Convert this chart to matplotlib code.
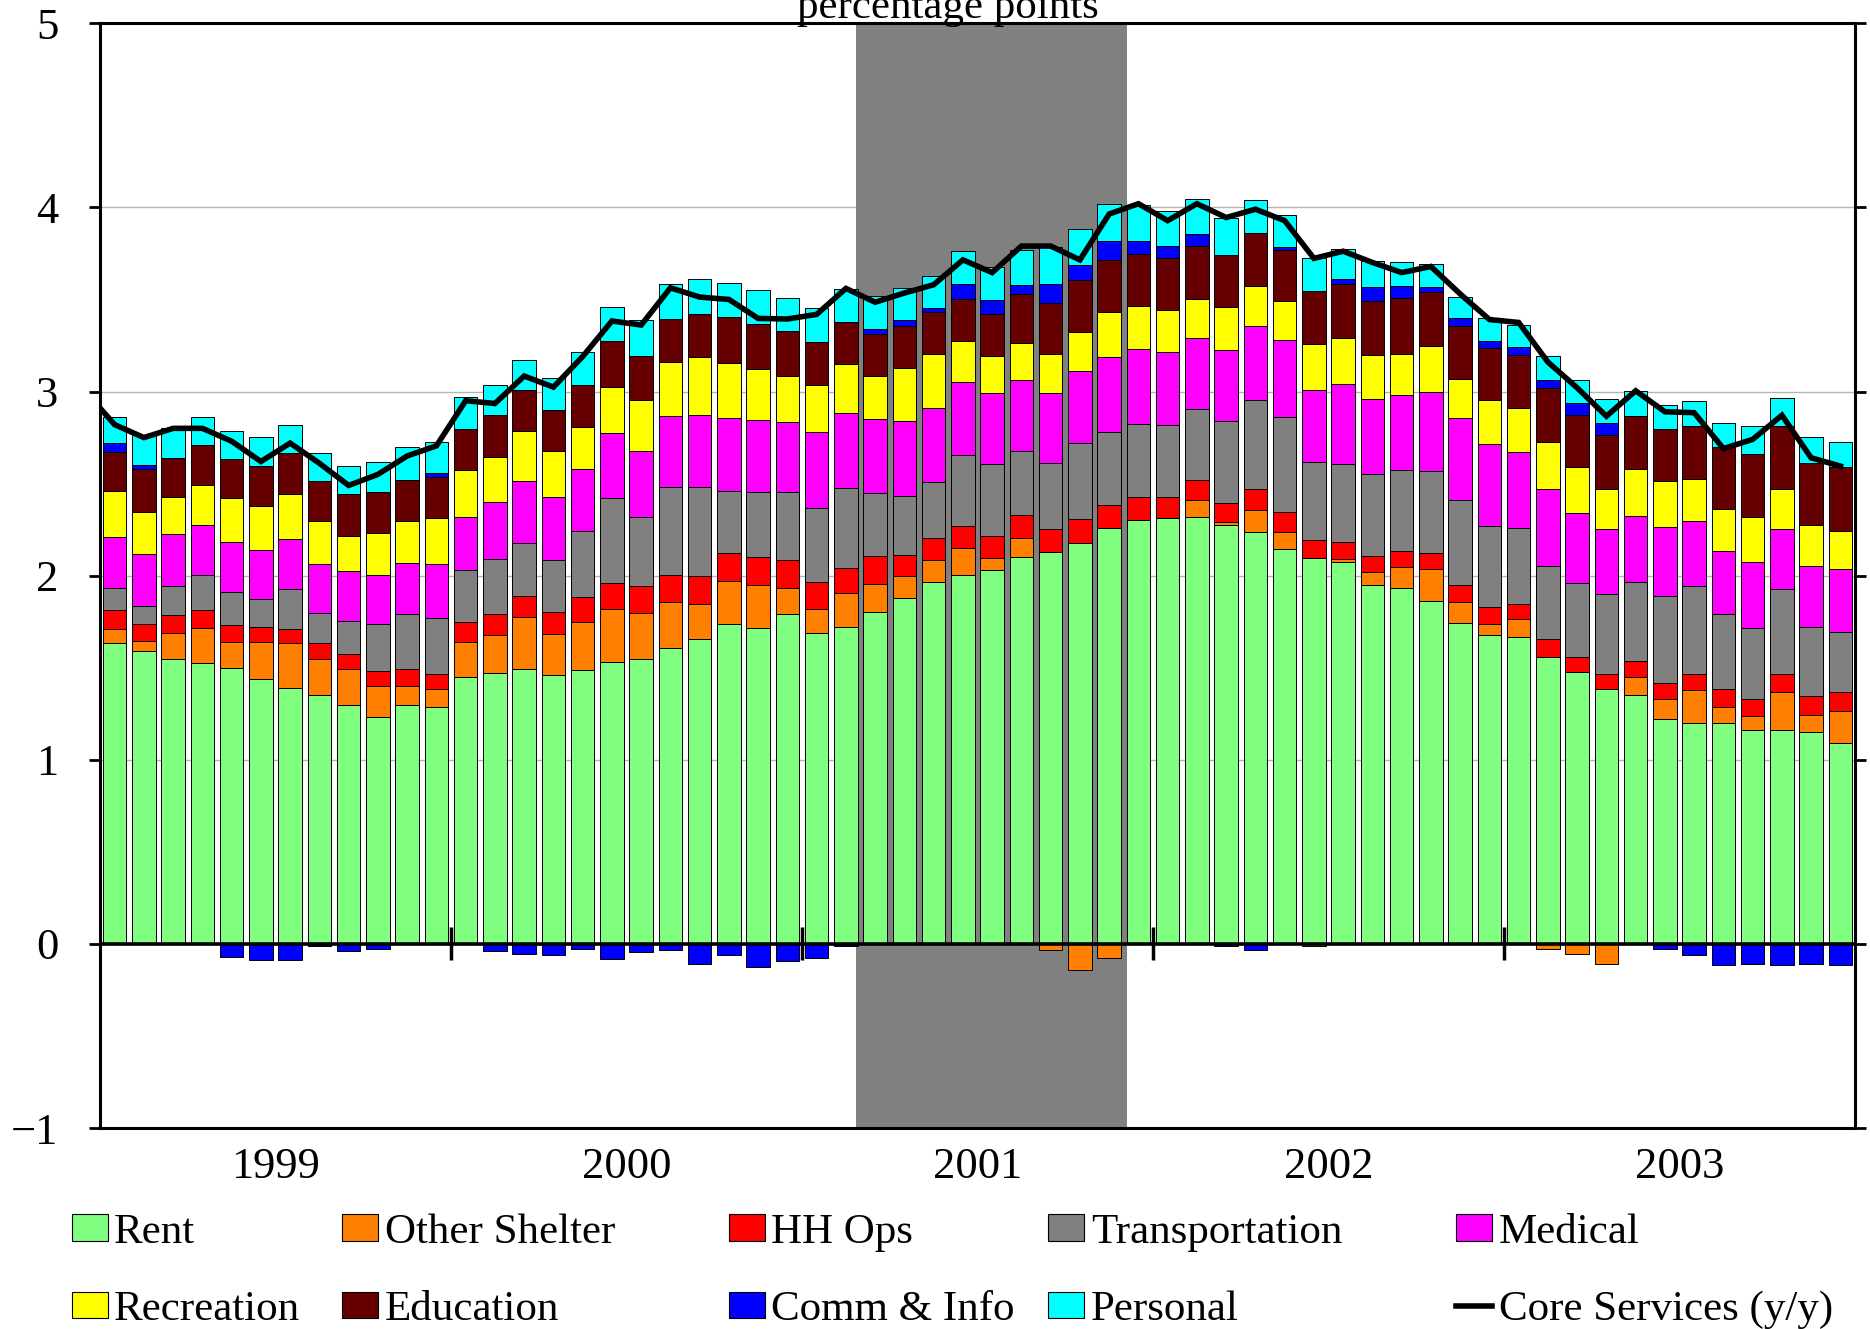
import numpy as np
import matplotlib.pyplot as plt
from matplotlib.lines import Line2D
from matplotlib.patches import Patch

plt.rcParams['font.family'] = ['Liberation Serif', 'DejaVu Serif']

# monthly contributions, Jan 1999 .. Dec 2003 (percentage points)
rent = [1.632, 1.593, 1.549, 1.524, 1.497, 1.441, 1.389, 1.350, 1.300, 1.231,
        1.295, 1.284, 1.450, 1.469, 1.491, 1.463, 1.488, 1.533, 1.546, 1.607,
        1.654, 1.737, 1.715, 1.790, 1.690, 1.723, 1.804, 1.881, 1.964, 2.003,
        2.030, 2.102, 2.130, 2.180, 2.260, 2.304, 2.313, 2.318, 2.274, 2.235,
        2.144, 2.094, 2.075, 1.950, 1.931, 1.862, 1.743, 1.679, 1.665, 1.557,
        1.477, 1.386, 1.353, 1.223, 1.198, 1.201, 1.162, 1.162, 1.151, 1.093]
other_shelter = [0.08, 0.05, 0.14, 0.19, 0.14, 0.20, 0.246, 0.196, 0.194, 0.169,
                 0.108, 0.10, 0.19, 0.207, 0.282, 0.219, 0.26, 0.287, 0.249, 0.252,
                 0.194, 0.235, 0.235, 0.141, 0.13, 0.183, 0.152, 0.116, 0.119, 0.149,
                 0.064, 0.105, -0.033, -0.144, -0.075, 0.0, 0.0, 0.091, 0.017, 0.119,
                 0.091, -0.012, 0.016, 0.072, 0.116, 0.174, 0.116, 0.061, 0.097, -0.028,
                 -0.055, -0.108, 0.097, 0.105, 0.18, 0.088, 0.075, 0.205, 0.094, 0.171]
hh_ops = [0.10, 0.094, 0.097, 0.10, 0.094, 0.08, 0.075, 0.086, 0.08, 0.083,
          0.091, 0.083, 0.108, 0.116, 0.119, 0.119, 0.136, 0.139, 0.15, 0.147,
          0.149, 0.15, 0.15, 0.152, 0.147, 0.135, 0.149, 0.114, 0.119, 0.116,
          0.119, 0.125, 0.122, 0.13, 0.122, 0.122, 0.116, 0.111, 0.105, 0.119,
          0.108, 0.097, 0.094, 0.083, 0.089, 0.086, 0.091, 0.089, 0.083, 0.10,
          0.08, 0.08, 0.085, 0.091, 0.088, 0.094, 0.094, 0.099, 0.102, 0.105]
transportation = [0.12, 0.10, 0.16, 0.19, 0.18, 0.15, 0.22, 0.163, 0.18, 0.254,
                  0.296, 0.304, 0.285, 0.301, 0.288, 0.285, 0.357, 0.461, 0.373, 0.478,
                  0.484, 0.34, 0.354, 0.371, 0.401, 0.435, 0.343, 0.323, 0.307, 0.385,
                  0.393, 0.343, 0.359, 0.409, 0.398, 0.398, 0.387, 0.387, 0.442, 0.481,
                  0.52, 0.426, 0.424, 0.448, 0.437, 0.445, 0.462, 0.439, 0.415, 0.398,
                  0.402, 0.432, 0.429, 0.47, 0.479, 0.407, 0.384, 0.459, 0.376, 0.327]
medical = [0.28, 0.28, 0.28, 0.27, 0.27, 0.27, 0.27, 0.266, 0.274, 0.268,
           0.279, 0.29, 0.288, 0.307, 0.332, 0.34, 0.34, 0.357, 0.36, 0.382,
           0.39, 0.396, 0.39, 0.381, 0.412, 0.409, 0.401, 0.407, 0.404, 0.401,
           0.384, 0.39, 0.382, 0.39, 0.407, 0.407, 0.401, 0.385, 0.39, 0.401,
           0.415, 0.393, 0.434, 0.407, 0.409, 0.432, 0.443, 0.448, 0.412, 0.413,
           0.381, 0.356, 0.362, 0.374, 0.351, 0.346, 0.357, 0.327, 0.332, 0.34]
recreation = [0.25, 0.23, 0.20, 0.22, 0.24, 0.24, 0.246, 0.235, 0.188, 0.224,
              0.227, 0.252, 0.252, 0.244, 0.274, 0.249, 0.227, 0.249, 0.274, 0.293,
              0.316, 0.298, 0.279, 0.247, 0.257, 0.263, 0.235, 0.288, 0.29, 0.221,
              0.205, 0.196, 0.21, 0.213, 0.246, 0.235, 0.224, 0.21, 0.23, 0.219,
              0.213, 0.249, 0.249, 0.241, 0.224, 0.249, 0.213, 0.238, 0.241, 0.26,
              0.249, 0.219, 0.255, 0.249, 0.23, 0.224, 0.246, 0.218, 0.219, 0.205]
education = [0.21, 0.23, 0.215, 0.215, 0.21, 0.215, 0.22, 0.216, 0.227, 0.224,
             0.224, 0.221, 0.226, 0.226, 0.224, 0.227, 0.227, 0.249, 0.243, 0.235,
             0.232, 0.247, 0.244, 0.246, 0.233, 0.232, 0.23, 0.226, 0.23, 0.227,
             0.227, 0.269, 0.277, 0.282, 0.282, 0.282, 0.285, 0.288, 0.285, 0.285,
             0.277, 0.288, 0.29, 0.293, 0.302, 0.29, 0.29, 0.283, 0.285, 0.29,
             0.282, 0.293, 0.288, 0.282, 0.285, 0.34, 0.34, 0.341, 0.34, 0.348]
comm_info = [0.05, 0.025, 0.0, 0.0, -0.07, -0.09, -0.09, -0.01, -0.04, -0.03,
             0.0, 0.022, 0.0, -0.04, -0.055, -0.06, -0.03, -0.083, -0.044, -0.033,
             -0.108, -0.06, -0.124, -0.094, -0.077, -0.01, 0.028, 0.031, 0.019, 0.08,
             0.075, 0.05, 0.105, 0.083, 0.102, 0.069, 0.066, 0.066, -0.01, -0.033,
             0.016, 0.0, 0.031, 0.074, 0.066, 0.03, 0.039, 0.038, 0.044, 0.047,
             0.069, 0.064, 0.0, -0.025, -0.06, -0.116, -0.11, -0.116, -0.11, -0.116]
personal = [0.14, 0.16, 0.16, 0.15, 0.155, 0.155, 0.15, 0.155, 0.15, 0.163,
            0.177, 0.169, 0.172, 0.164, 0.163, 0.171, 0.179, 0.186, 0.194, 0.188,
            0.194, 0.185, 0.182, 0.18, 0.182, 0.175, 0.177, 0.174, 0.177, 0.18,
            0.177, 0.19, 0.199, 0.194, 0.202, 0.194, 0.19, 0.188, 0.199, 0.18,
            0.172, 0.177, 0.163, 0.139, 0.127, 0.125, 0.116, 0.125, 0.119, 0.13,
            0.124, 0.127, 0.135, 0.133, 0.135, 0.127, 0.153, 0.154, 0.141, 0.139]
# core services y/y, Dec 1998 .. Dec 2003
core = [3.00,
        2.82, 2.75, 2.80, 2.80, 2.73, 2.62, 2.72, 2.61, 2.49, 2.55,
        2.65, 2.705, 2.95, 2.935, 3.084, 3.024, 3.19, 3.383, 3.361, 3.563,
        3.513, 3.50, 3.397, 3.394, 3.419, 3.56, 3.485, 3.535, 3.58, 3.715,
        3.646, 3.79, 3.79, 3.715, 3.964, 4.02, 3.928, 4.02, 3.945, 3.99,
        3.928, 3.723, 3.762, 3.701, 3.646, 3.679, 3.53, 3.391, 3.375, 3.16,
        3.02, 2.866, 3.004, 2.89, 2.885, 2.69, 2.74, 2.871, 2.64, 2.595]

names = ['Rent', 'Other Shelter', 'HH Ops', 'Transportation', 'Medical',
         'Recreation', 'Education', 'Comm & Info', 'Personal']
colors = ['#80ff80', '#ff8000', '#ff0000', '#808080', '#ff00ff',
          '#ffff00', '#660000', '#0000ff', '#00ffff']
series = [rent, other_shelter, hh_ops, transportation, medical,
          recreation, education, comm_info, personal]
years = ['1999', '2000', '2001', '2002', '2003']
rec_start, rec_end = 25.85, 35.1  # months since Jan 1999

fig = plt.figure(figsize=(18.7, 13.29), dpi=100)
ax = fig.add_axes([0.0535, 0.1512, 0.9385, 0.8313])

n = len(rent)
x = np.arange(n) + 0.5
pos_base = np.zeros(n)
neg_base = np.zeros(n)
for vals, c in zip(series, colors):
    v = np.array(vals)
    bottom = np.where(v >= 0, pos_base, neg_base)
    m = v != 0
    ax.bar(x[m], v[m], 0.8, bottom=bottom[m], color=c, edgecolor='black',
           linewidth=0.7, zorder=2)
    pos_base += np.clip(v, 0, None)
    neg_base += np.clip(v, None, 0)

ax.plot(np.arange(-1, n) + 0.5, core, color='black', lw=4, zorder=5,
        solid_joinstyle='miter')

ax.axvspan(rec_start, rec_end, color='#808080', lw=0, zorder=1)
ax.axhline(0, color='black', lw=2.6, zorder=4)
ax.vlines(np.arange(12, n, 12), -0.09, 0.09, color='black', lw=2.5, zorder=4)

ax.set_xlim(0, n)
ax.set_ylim(-1, 5)
ax.set_yticks(range(-1, 6))
ax.set_xticks(np.arange(6, n, 12))
ax.set_xticklabels(years)
ax.set_axisbelow(True)
ax.grid(axis='y', color='#b4b4b4', lw=1)
ax.tick_params(axis='x', length=0, labelsize=32, pad=14)
ax.tick_params(axis='y', direction='out', length=8, width=2, labelsize=32,
               pad=22, right=True)
for s in ax.spines.values():
    s.set_linewidth(2.2)

fig.text(0.507, 0.9867, 'percentage points', ha='center', va='baseline',
         fontsize=31)

handles = [Patch(facecolor=c, edgecolor='black', lw=0.8) for c in colors]
handles.append(Line2D([], [], color='black', lw=4))
labels = names + ['Core Services (y/y)']
col_x = [0.0383, 0.183, 0.3897, 0.5606, 0.7787]
for i, cx in enumerate(col_x):
    fig.legend([handles[i], handles[i + 5]], [labels[i], labels[i + 5]],
               loc='center left', bbox_to_anchor=(cx, 0.0434), frameon=False,
               fontsize=31, borderpad=0, borderaxespad=0, labelspacing=0.91,
               handlelength=0.84, handleheight=0.56, handletextpad=0.15)

fig.savefig('out.png', dpi=100)
